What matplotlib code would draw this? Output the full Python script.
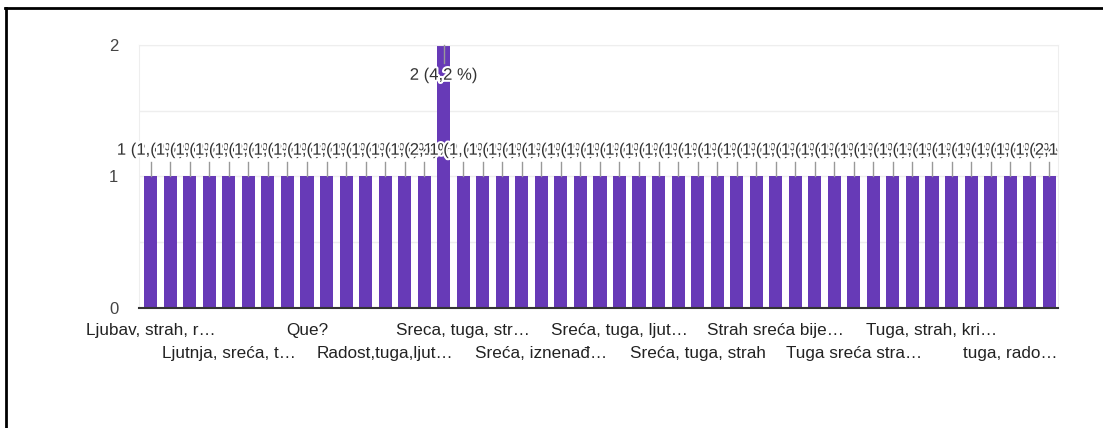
import matplotlib
matplotlib.use("Agg")
import matplotlib.pyplot as plt
import matplotlib.patheffects as pe
from matplotlib.lines import Line2D
from matplotlib.patches import Rectangle

categories = [
    "Ljubav, strah, r…", "Ljutnja", "Ljutnja, radost", "Ljutnja, sreća",
    "Ljutnja, sreća, t…", "Ljutnja, tuga", "Nemir, sreća", "Ponos, sreća",
    "Que?", "Radost", "Radost, strah", "Radost, tuga",
    "Radost,tuga,ljut…", "Sreca", "Sreca, strah", "Sreca, tuga",
    "Sreca, tuga, str…", "Sreća", "Sreća, bijes", "Sreća, iznenađenje",
    "Sreća, iznenađ…", "Sreća, ljutnja", "Sreća, strah", "Sreća, tuga",
    "Sreća, tuga, ljut…", "Sreća, tuga, ljubav", "Sreća, tuga, radost", "Sreća, tuga, sram",
    "Sreća, tuga, strah", "Sreća, uzbuđenje", "Strah", "Strah, tuga",
    "Strah sreća bije…", "Strah, sreća", "Tuga", "Tuga, ljutnja",
    "Tuga sreća stra…", "Tuga, radost", "Tuga, sreća", "Tuga, strah",
    "Tuga, strah, kri…", "Tuga, sram", "Uzbuđenje", "Zbunjenost",
    "tuga, rado…", "tuga, sreća", "zbunjenost",
]
counts = [1] * 15 + [2] + [1] * 31
total_responses = 48
y_ticks = [0, 1, 2]

plt.rcParams['font.family'] = ['Liberation Sans', 'DejaVu Sans']

fig = plt.figure(figsize=(11.03, 4.28), dpi=100)
ax = fig.add_axes([139 / 1103, 1 - 308 / 428, (1058 - 139) / 1103, (308 - 45) / 428])

x = list(range(len(categories)))
ax.bar(x, counts, width=0.67, color="#673ab7", zorder=2)

ax.set_xlim(-0.6, len(categories) - 0.55)
ax.set_ylim(0, 2)
ax.set_yticks(y_ticks)
ax.set_yticks([0.5, 1.5], minor=True)
ax.grid(axis="y", which="both", color="#eeeeee", linewidth=1, zorder=0)
ax.tick_params(axis="y", which="both", length=0, pad=15, labelsize=12, labelcolor="#444444")
for s in ["top", "left", "right"]:
    ax.spines[s].set_color("#eeeeee")
ax.spines["bottom"].set_color("#333333")
ax.spines["bottom"].set_linewidth(1.5)
ax.spines["bottom"].set_zorder(3)

tick_pos = x[::4]
tick_lab = []
for k, i in enumerate(tick_pos):
    lab = categories[i]
    tick_lab.append(lab if k % 2 == 0 else "\n" + lab)
ax.set_xticks(tick_pos)
ax.set_xticklabels(tick_lab, fontsize=12.3, color="#222222", linespacing=1.68)
ax.tick_params(axis="x", length=0, pad=10.5)

clip_rect = Rectangle((-0.2, -0.5), 1.2, 2.0, transform=ax.transAxes, visible=False)
ax.add_patch(clip_rect)

halo = [pe.withStroke(linewidth=3, foreground="white")]
for xi, v in zip(x, counts):
    pct = f"{v / total_responses * 100:.1f}".replace(".", ",")
    label = f"{v} ({pct} %)"
    if v == 1:
        ty = 1.2
        ax.plot([xi, xi], [1.005, 1.11], color="#999999", lw=1, zorder=3, clip_on=False)
    else:
        ty = 1.77
        ax.plot([xi, xi], [2.0, 1.86], color="#999999", lw=1, zorder=3, clip_on=False)
    t = ax.text(xi, ty, label, ha="center", va="center", fontsize=12,
                color="#333333", path_effects=halo, zorder=4)
    t.set_clip_path(clip_rect)
    t.set_clip_on(True)

fig.add_artist(Line2D([5 / 1103, 1], [1 - 8 / 428, 1 - 8 / 428], transform=fig.transFigure,
                      color="black", lw=2))
fig.add_artist(Line2D([6 / 1103, 6 / 1103], [0, 1 - 8 / 428], transform=fig.transFigure,
                      color="black", lw=2))

fig.savefig("out.png", dpi=100)
